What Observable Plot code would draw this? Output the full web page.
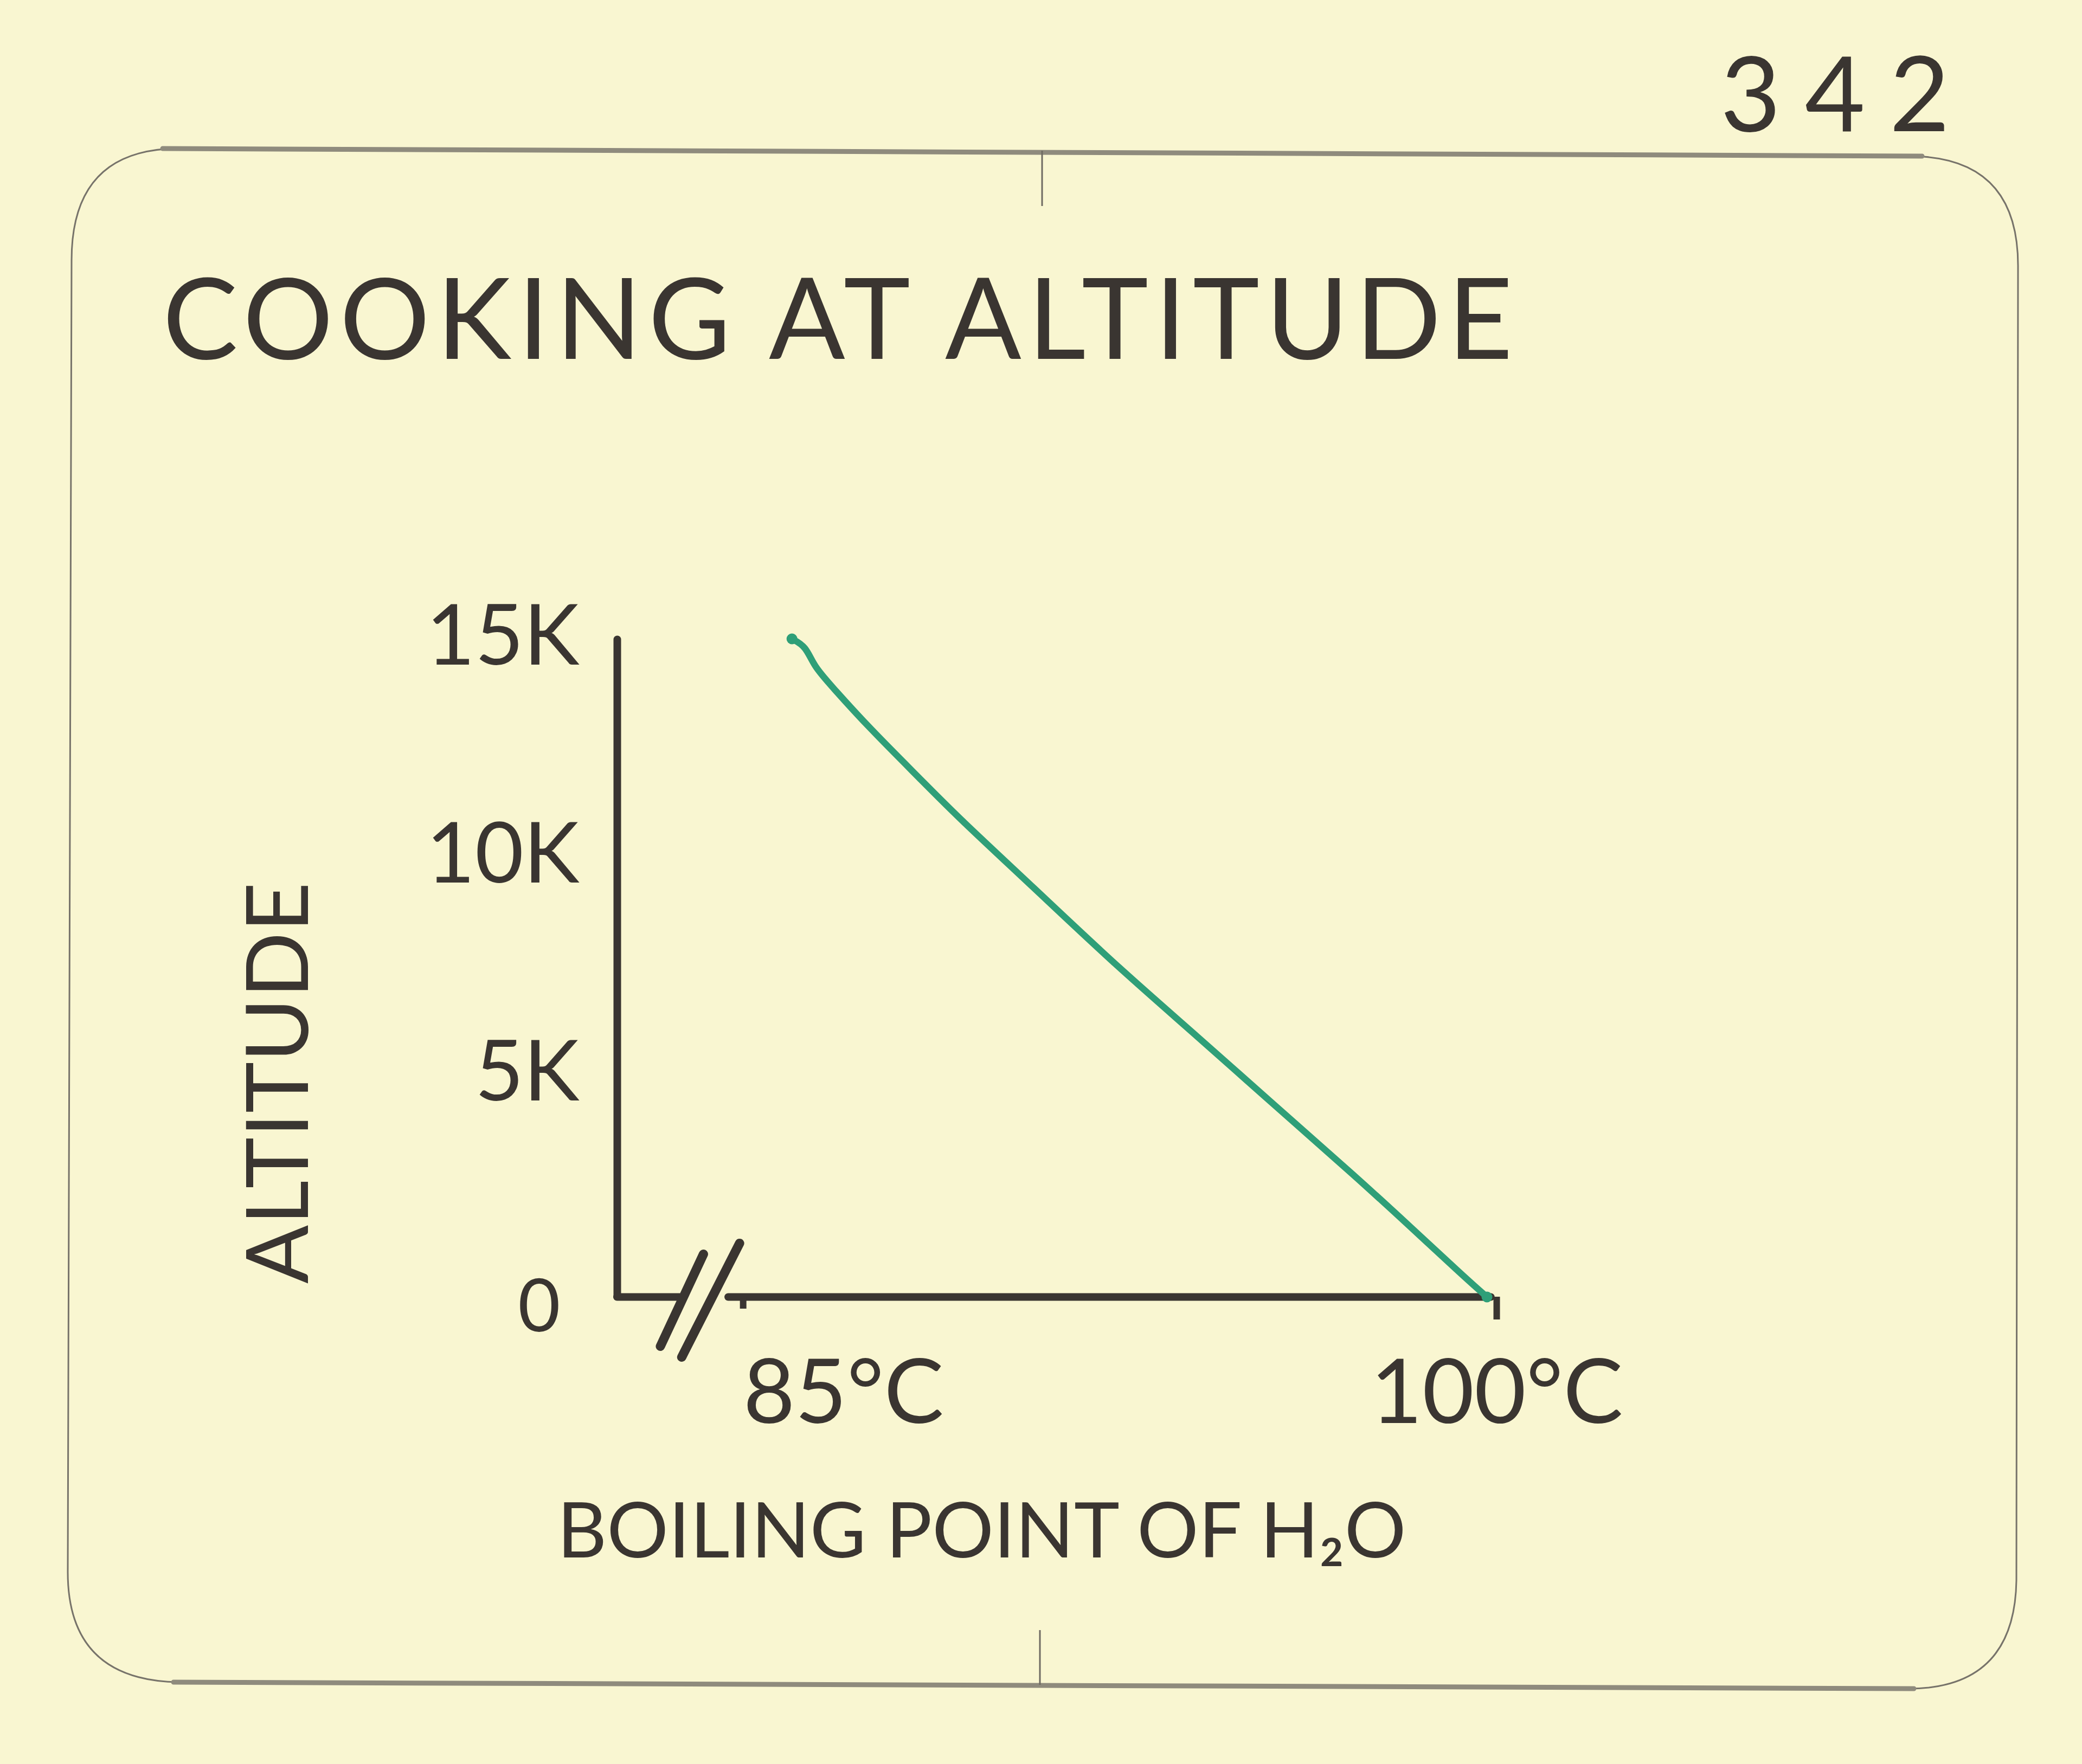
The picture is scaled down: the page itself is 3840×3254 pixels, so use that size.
<!DOCTYPE html>
<html>
<head>
<meta charset="utf-8">
<script src="https://cdn.jsdelivr.net/npm/d3@7"></script>
<script src="https://cdn.jsdelivr.net/npm/@observablehq/plot@0.6"></script>
<style>
  html, body { margin: 0; padding: 0; background: #f9f6d1; }
  #page { position: relative; width: 3840px; height: 3254px; overflow: hidden; background: #f9f6d1; }
  #page > svg { position: absolute; left: 0; top: 0; }
  #overlay { pointer-events: none; }
</style>
</head>
<body>
<div id="page">
  <svg id="overlay" width="3840" height="3254" xmlns="http://www.w3.org/2000/svg">
    <!-- card frame -->
    <path d="M 330 274 L 3525 288 Q 3722 290 3722 490 L 3719 2915 Q 3716 3115 3520 3115 L 330 3103 Q 125 3100 125 2900 L 132 480 Q 132 274 330 274 Z"
          fill="none" stroke="#77736a" stroke-width="3"/>
    <path d="M 300 274 L 3545 288" stroke="#8f8b7d" stroke-width="9" stroke-linecap="round" fill="none"/>
    <path d="M 320 3103 L 3530 3115" stroke="#8f8b7d" stroke-width="9" stroke-linecap="round" fill="none"/>
    <line x1="1922" y1="278" x2="1922" y2="380" stroke="#6f6b62" stroke-width="3"/>
    <line x1="1918" y1="3007" x2="1918" y2="3108" stroke="#6f6b62" stroke-width="3"/>
    <text id="pagenum" x="3173" y="242" font-family="Lato" font-size="192" fill="#3a3531"
          textLength="423" lengthAdjust="spacing">342</text>
    <text id="title" x="300" y="662" font-family="Lato" font-size="208" fill="#3a3531"
          textLength="2490" lengthAdjust="spacing">COOKING AT ALTITUDE</text>
  </svg>
</div>
<script>
// ---- data ----
const boilingTemp = [85.0, 85.3, 85.47, 85.85, 86.64, 87.81, 88.59, 90.18, 91.97, 93.76, 95.38, 97.17, 98.34, 99.51, 100.0];
const altitude    = [15100, 14930, 14480, 14020, 13087, 11843, 11000, 9430, 7626, 5971, 4429, 2762, 1617, 460, 0];

const xTickValues = [85, 100];
const xTickLabels = ["85°C", "100°C"];
const yTickValues = [5000, 10000, 15000];
const yTickLabels = ["5K", "10K", "15K"];
const yZeroLabel  = ["0"];

const xAxisTitle = "BOILING POINT OF H₂O";
const yAxisTitle = "ALTITUDE";

const xDomain = [81.23, 100];
const yDomain = [0, 15000];
// broken x axis: gap between these temperatures, and the two "//" strokes
const axisGap = [82.58, 83.63];
const breakSlashes = [
  {x1: 83.09, y1: 983,  x2: 82.16, y2: -1132},
  {x1: 83.87, y1: 1232, x2: 82.62, y2: -1381}
];

// ---- build ----
const ink = "#3a3531";
const green = "#2f9f78";
const points = boilingTemp.map((t, i) => ({temp: t, alt: altitude[i]}));
const fmtX = d => xTickLabels[xTickValues.indexOf(d)];
const fmtY = d => yTickLabels[yTickValues.indexOf(d)];

const chart = Plot.plot({
  width: 3840,
  height: 3254,
  marginLeft: 1138,
  marginRight: 1098,
  marginTop: 1186,
  marginBottom: 862,
  style: {background: "transparent", color: ink, fontFamily: "Lato", overflow: "visible"},
  x: {domain: xDomain, axis: null},
  y: {domain: yDomain, axis: null},
  marks: [
    // y axis line
    Plot.ruleX([xDomain[0]], {y1: yDomain[0], y2: yDomain[1] + 80, stroke: ink, strokeWidth: 14, strokeLinecap: "round"}),
    // x axis line (broken)
    Plot.ruleY([0], {x1: xDomain[0], x2: axisGap[0], stroke: ink, strokeWidth: 14, strokeLinecap: "round"}),
    Plot.ruleY([0], {x1: axisGap[1], x2: xDomain[1] + 0.09, stroke: ink, strokeWidth: 14, strokeLinecap: "round"}),
    Plot.link(breakSlashes, {x1: "x1", y1: "y1", x2: "x2", y2: "y2", stroke: ink, strokeWidth: 17, strokeLinecap: "round"}),
    // x ticks and labels
    Plot.axisX([xTickValues[0]], {tickSize: 22, tickPadding: 93, tickFormat: fmtX, textAnchor: "start", dx: -90,
      fontSize: 165, strokeWidth: 12, stroke: ink, fill: ink}),
    Plot.axisX([xTickValues[1]], {tickSize: 42, tickPadding: 73, tickFormat: fmtX, dx: 18,
      fontSize: 165, strokeWidth: 12, stroke: ink, fill: ink}),
    // y labels
    Plot.axisY(yTickValues, {tickSize: 0, tickPadding: 70, tickFormat: fmtY, dy: -10, fontSize: 155, fill: ink}),
    Plot.axisY([yDomain[0]], {tickSize: 0, tickPadding: 105, tickFormat: () => yZeroLabel[0], dy: 20, fontSize: 135, fill: ink}),
    // axis titles
    Plot.text([yAxisTitle], {frameAnchor: "left", rotate: -90, textAnchor: "middle", dx: -571, dy: 208, lineAnchor: "bottom", fontSize: 160, fill: ink}),
    Plot.text([xAxisTitle], {frameAnchor: "bottom", textAnchor: "middle", dx: -130, dy: 480, lineAnchor: "bottom", fontSize: 142, fill: ink}),
    // the curve
    Plot.line(points, {x: "temp", y: "alt", stroke: green, strokeWidth: 12, curve: "basis", strokeLinecap: "round", strokeLinejoin: "round"}),
    Plot.dot([points[0], points[points.length - 1]], {x: "temp", y: "alt", r: 10, fill: green})
  ]
});
document.getElementById("page").insertBefore(chart, document.getElementById("overlay"));
</script>
</body>
</html>
